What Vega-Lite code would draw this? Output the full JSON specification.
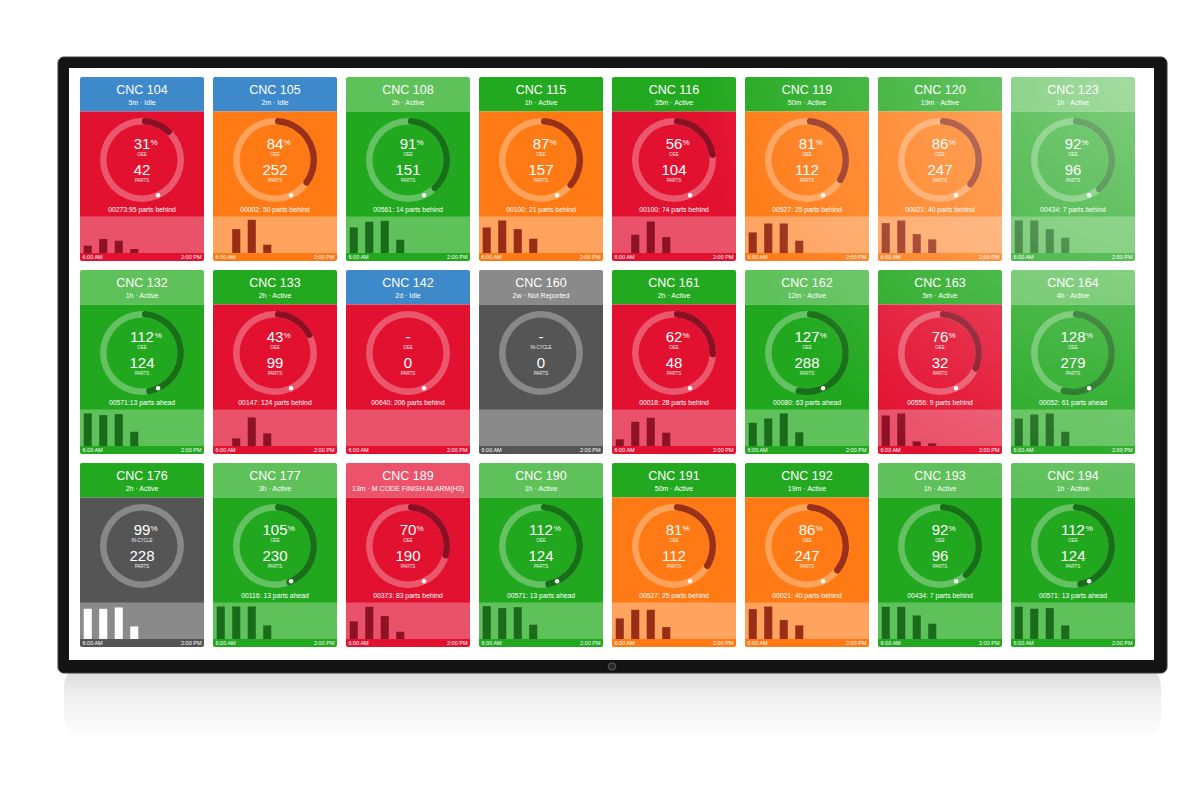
{
  "$schema": "https://vega.github.io/schema/vega-lite/v6.json",
  "background": "white",
  "padding": {"left": 57, "top": 46, "right": 0, "bottom": 0},
  "autosize": {"type": "pad"},
  "bounds": "flush",
  "config": {
    "view": {"stroke": null},
    "axis": {"disable": true},
    "legend": {"disable": true},
    "header": {"labels": false, "labelExpr": "''", "title": null, "labelPadding": 0, "titlePadding": 0},
    "mark": {"invalid": null},
    "font": "Liberation Sans"
  },
  "data": {
    "values": [
      {"kind": "tile", "machine": "CNC 104", "status": "5m · Idle", "mode": "Idle", "oee": 31, "metric": "OEE", "parts": 42, "note": "00273:95 parts behind"},
      {"kind": "tile", "machine": "CNC 105", "status": "2m · Idle", "mode": "Idle", "oee": 84, "metric": "OEE", "parts": 252, "note": "00002: 50 parts behind"},
      {"kind": "tile", "machine": "CNC 108", "status": "2h · Active", "mode": "Active", "oee": 91, "metric": "OEE", "parts": 151, "note": "00561: 14 parts behind"},
      {"kind": "tile", "machine": "CNC 115", "status": "1h · Active", "mode": "Active", "oee": 87, "metric": "OEE", "parts": 157, "note": "00100: 21 parts behind"},
      {"kind": "tile", "machine": "CNC 116", "status": "35m · Active", "mode": "Active", "oee": 56, "metric": "OEE", "parts": 104, "note": "00100: 74 parts behind"},
      {"kind": "tile", "machine": "CNC 119", "status": "50m · Active", "mode": "Active", "oee": 81, "metric": "OEE", "parts": 112, "note": "00527: 25 parts behind"},
      {"kind": "tile", "machine": "CNC 120", "status": "19m · Active", "mode": "Active", "oee": 86, "metric": "OEE", "parts": 247, "note": "00021: 40 parts behind"},
      {"kind": "tile", "machine": "CNC 123", "status": "1h · Active", "mode": "Active", "oee": 92, "metric": "OEE", "parts": 96, "note": "00434: 7 parts behind"},
      {"kind": "tile", "machine": "CNC 132", "status": "1h · Active", "mode": "Active", "oee": 112, "metric": "OEE", "parts": 124, "note": "00571:13 parts ahead"},
      {"kind": "tile", "machine": "CNC 133", "status": "2h · Active", "mode": "Active", "oee": 43, "metric": "OEE", "parts": 99, "note": "00147: 124 parts behind"},
      {"kind": "tile", "machine": "CNC 142", "status": "2d · Idle", "mode": "Idle", "oee": null, "metric": "OEE", "parts": 0, "note": "00640: 206 parts behind"},
      {"kind": "tile", "machine": "CNC 160", "status": "2w · Not Reported", "mode": "Not Reported", "oee": null, "metric": "IN-CYCLE", "parts": 0, "note": null},
      {"kind": "tile", "machine": "CNC 161", "status": "2h · Active", "mode": "Active", "oee": 62, "metric": "OEE", "parts": 48, "note": "00018: 28 parts behind"},
      {"kind": "tile", "machine": "CNC 162", "status": "12m · Active", "mode": "Active", "oee": 127, "metric": "OEE", "parts": 288, "note": "00080: 63 parts ahead"},
      {"kind": "tile", "machine": "CNC 163", "status": "5m · Active", "mode": "Active", "oee": 76, "metric": "OEE", "parts": 32, "note": "00556: 9 parts behind"},
      {"kind": "tile", "machine": "CNC 164", "status": "4h · Active", "mode": "Active", "oee": 128, "metric": "OEE", "parts": 279, "note": "00052: 61 parts ahead"},
      {"kind": "tile", "machine": "CNC 176", "status": "2h · Active", "mode": "Active", "oee": 99, "metric": "IN-CYCLE", "parts": 228, "note": null},
      {"kind": "tile", "machine": "CNC 177", "status": "3h · Active", "mode": "Active", "oee": 105, "metric": "OEE", "parts": 230, "note": "00116: 13 parts ahead"},
      {"kind": "tile", "machine": "CNC 189", "status": "13m · M CODE FINISH ALARM(H3)", "mode": "Alarm", "oee": 70, "metric": "OEE", "parts": 190, "note": "00373: 83 parts behind"},
      {"kind": "tile", "machine": "CNC 190", "status": "1h · Active", "mode": "Active", "oee": 112, "metric": "OEE", "parts": 124, "note": "00571: 13 parts ahead"},
      {"kind": "tile", "machine": "CNC 191", "status": "50m · Active", "mode": "Active", "oee": 81, "metric": "OEE", "parts": 112, "note": "00527: 25 parts behind"},
      {"kind": "tile", "machine": "CNC 192", "status": "19m · Active", "mode": "Active", "oee": 86, "metric": "OEE", "parts": 247, "note": "00021: 40 parts behind"},
      {"kind": "tile", "machine": "CNC 193", "status": "1h · Active", "mode": "Active", "oee": 92, "metric": "OEE", "parts": 96, "note": "00434: 7 parts behind"},
      {"kind": "tile", "machine": "CNC 194", "status": "1h · Active", "mode": "Active", "oee": 112, "metric": "OEE", "parts": 124, "note": "00571: 13 parts ahead"},
      {"kind": "bar", "machine": "CNC 104", "hour": 6, "pct": 22},
      {"kind": "bar", "machine": "CNC 104", "hour": 7, "pct": 42},
      {"kind": "bar", "machine": "CNC 104", "hour": 8, "pct": 37},
      {"kind": "bar", "machine": "CNC 104", "hour": 9, "pct": 12},
      {"kind": "bar", "machine": "CNC 105", "hour": 7, "pct": 72},
      {"kind": "bar", "machine": "CNC 105", "hour": 8, "pct": 100},
      {"kind": "bar", "machine": "CNC 105", "hour": 9, "pct": 25},
      {"kind": "bar", "machine": "CNC 108", "hour": 6, "pct": 77},
      {"kind": "bar", "machine": "CNC 108", "hour": 7, "pct": 94},
      {"kind": "bar", "machine": "CNC 108", "hour": 8, "pct": 97},
      {"kind": "bar", "machine": "CNC 108", "hour": 9, "pct": 40},
      {"kind": "bar", "machine": "CNC 115", "hour": 6, "pct": 77},
      {"kind": "bar", "machine": "CNC 115", "hour": 7, "pct": 98},
      {"kind": "bar", "machine": "CNC 115", "hour": 8, "pct": 72},
      {"kind": "bar", "machine": "CNC 115", "hour": 9, "pct": 43},
      {"kind": "bar", "machine": "CNC 116", "hour": 7, "pct": 55},
      {"kind": "bar", "machine": "CNC 116", "hour": 8, "pct": 95},
      {"kind": "bar", "machine": "CNC 116", "hour": 9, "pct": 48},
      {"kind": "bar", "machine": "CNC 119", "hour": 6, "pct": 62},
      {"kind": "bar", "machine": "CNC 119", "hour": 7, "pct": 89},
      {"kind": "bar", "machine": "CNC 119", "hour": 8, "pct": 89},
      {"kind": "bar", "machine": "CNC 119", "hour": 9, "pct": 37},
      {"kind": "bar", "machine": "CNC 120", "hour": 6, "pct": 90},
      {"kind": "bar", "machine": "CNC 120", "hour": 7, "pct": 98},
      {"kind": "bar", "machine": "CNC 120", "hour": 8, "pct": 57},
      {"kind": "bar", "machine": "CNC 120", "hour": 9, "pct": 41},
      {"kind": "bar", "machine": "CNC 123", "hour": 6, "pct": 98},
      {"kind": "bar", "machine": "CNC 123", "hour": 7, "pct": 98},
      {"kind": "bar", "machine": "CNC 123", "hour": 8, "pct": 72},
      {"kind": "bar", "machine": "CNC 123", "hour": 9, "pct": 46},
      {"kind": "bar", "machine": "CNC 132", "hour": 6, "pct": 98},
      {"kind": "bar", "machine": "CNC 132", "hour": 7, "pct": 93},
      {"kind": "bar", "machine": "CNC 132", "hour": 8, "pct": 96},
      {"kind": "bar", "machine": "CNC 132", "hour": 9, "pct": 43},
      {"kind": "bar", "machine": "CNC 133", "hour": 7, "pct": 23},
      {"kind": "bar", "machine": "CNC 133", "hour": 8, "pct": 86},
      {"kind": "bar", "machine": "CNC 133", "hour": 9, "pct": 38},
      {"kind": "bar", "machine": "CNC 161", "hour": 6, "pct": 20},
      {"kind": "bar", "machine": "CNC 161", "hour": 7, "pct": 73},
      {"kind": "bar", "machine": "CNC 161", "hour": 8, "pct": 85},
      {"kind": "bar", "machine": "CNC 161", "hour": 9, "pct": 40},
      {"kind": "bar", "machine": "CNC 162", "hour": 6, "pct": 70},
      {"kind": "bar", "machine": "CNC 162", "hour": 7, "pct": 83},
      {"kind": "bar", "machine": "CNC 162", "hour": 8, "pct": 98},
      {"kind": "bar", "machine": "CNC 162", "hour": 9, "pct": 41},
      {"kind": "bar", "machine": "CNC 163", "hour": 6, "pct": 92},
      {"kind": "bar", "machine": "CNC 163", "hour": 7, "pct": 98},
      {"kind": "bar", "machine": "CNC 163", "hour": 8, "pct": 14},
      {"kind": "bar", "machine": "CNC 163", "hour": 9, "pct": 8},
      {"kind": "bar", "machine": "CNC 164", "hour": 6, "pct": 83},
      {"kind": "bar", "machine": "CNC 164", "hour": 7, "pct": 95},
      {"kind": "bar", "machine": "CNC 164", "hour": 8, "pct": 98},
      {"kind": "bar", "machine": "CNC 164", "hour": 9, "pct": 43},
      {"kind": "bar", "machine": "CNC 176", "hour": 6, "pct": 91},
      {"kind": "bar", "machine": "CNC 176", "hour": 7, "pct": 91},
      {"kind": "bar", "machine": "CNC 176", "hour": 8, "pct": 95},
      {"kind": "bar", "machine": "CNC 176", "hour": 9, "pct": 38},
      {"kind": "bar", "machine": "CNC 177", "hour": 6, "pct": 98},
      {"kind": "bar", "machine": "CNC 177", "hour": 7, "pct": 98},
      {"kind": "bar", "machine": "CNC 177", "hour": 8, "pct": 98},
      {"kind": "bar", "machine": "CNC 177", "hour": 9, "pct": 41},
      {"kind": "bar", "machine": "CNC 189", "hour": 6, "pct": 53},
      {"kind": "bar", "machine": "CNC 189", "hour": 7, "pct": 97},
      {"kind": "bar", "machine": "CNC 189", "hour": 8, "pct": 69},
      {"kind": "bar", "machine": "CNC 189", "hour": 9, "pct": 22},
      {"kind": "bar", "machine": "CNC 190", "hour": 6, "pct": 99},
      {"kind": "bar", "machine": "CNC 190", "hour": 7, "pct": 93},
      {"kind": "bar", "machine": "CNC 190", "hour": 8, "pct": 96},
      {"kind": "bar", "machine": "CNC 190", "hour": 9, "pct": 43},
      {"kind": "bar", "machine": "CNC 191", "hour": 6, "pct": 62},
      {"kind": "bar", "machine": "CNC 191", "hour": 7, "pct": 88},
      {"kind": "bar", "machine": "CNC 191", "hour": 8, "pct": 88},
      {"kind": "bar", "machine": "CNC 191", "hour": 9, "pct": 36},
      {"kind": "bar", "machine": "CNC 192", "hour": 6, "pct": 90},
      {"kind": "bar", "machine": "CNC 192", "hour": 7, "pct": 98},
      {"kind": "bar", "machine": "CNC 192", "hour": 8, "pct": 57},
      {"kind": "bar", "machine": "CNC 192", "hour": 9, "pct": 41},
      {"kind": "bar", "machine": "CNC 193", "hour": 6, "pct": 97},
      {"kind": "bar", "machine": "CNC 193", "hour": 7, "pct": 97},
      {"kind": "bar", "machine": "CNC 193", "hour": 8, "pct": 71},
      {"kind": "bar", "machine": "CNC 193", "hour": 9, "pct": 46},
      {"kind": "bar", "machine": "CNC 194", "hour": 6, "pct": 97},
      {"kind": "bar", "machine": "CNC 194", "hour": 7, "pct": 91},
      {"kind": "bar", "machine": "CNC 194", "hour": 8, "pct": 93},
      {"kind": "bar", "machine": "CNC 194", "hour": 9, "pct": 41}
    ]
  },
  "facet": {"field": "machine", "type": "nominal", "header": {"labels": false, "labelExpr": "''", "title": null, "labelPadding": 0, "titlePadding": 0}},
  "columns": 8,
  "spacing": {"row": 9, "column": 9},
  "spec": {
    "width": 124,
    "height": 184,
    "layer": [
      {
        "layer": [
          {
            "transform": [{"filter": "datum.kind === 'tile' && datum.machine === 'CNC 104'"}],
            "mark": {"type": "rect", "cornerRadius": 24, "fill": {"gradient": "linear", "x1": 0, "y1": 0, "x2": 0, "y2": 1, "stops": [{"offset": 0, "color": "rgba(0,0,0,0.16)"}, {"offset": 0.45, "color": "rgba(0,0,0,0.06)"}, {"offset": 1, "color": "rgba(0,0,0,0)"}]}},
            "encoding": {
              "x": {"datum": -16, "type": "quantitative", "scale": {"domain": [0, 124], "nice": false, "zero": false}},
              "x2": {"datum": 1081},
              "y": {"datum": 586, "type": "quantitative", "scale": {"domain": [0, 184], "nice": false, "zero": false, "reverse": true}},
              "y2": {"datum": 664}
            }
          },
          {
            "transform": [{"filter": "datum.kind === 'tile' && datum.machine === 'CNC 104'"}],
            "mark": {"type": "rect", "fill": "#141414", "stroke": "#3c3c3c", "strokeWidth": 1, "cornerRadius": 6},
            "encoding": {
              "x": {"datum": -22, "type": "quantitative", "scale": {"domain": [0, 124], "nice": false, "zero": false}},
              "x2": {"datum": 1087},
              "y": {"datum": -20, "type": "quantitative", "scale": {"domain": [0, 184], "nice": false, "zero": false, "reverse": true}},
              "y2": {"datum": 596}
            }
          },
          {
            "transform": [{"filter": "datum.kind === 'tile' && datum.machine === 'CNC 104'"}],
            "mark": {"type": "rect", "fill": "#ffffff"},
            "encoding": {
              "x": {"datum": -11, "type": "quantitative", "scale": {"domain": [0, 124], "nice": false, "zero": false}},
              "x2": {"datum": 1074},
              "y": {"datum": -9, "type": "quantitative", "scale": {"domain": [0, 184], "nice": false, "zero": false, "reverse": true}},
              "y2": {"datum": 583}
            }
          },
          {
            "transform": [{"filter": "datum.kind === 'tile' && datum.machine === 'CNC 104'"}],
            "mark": {"type": "point", "filled": true, "fill": "#2c2c2c", "stroke": "#5a5a5a", "strokeWidth": 1, "size": 55, "opacity": 1},
            "encoding": {
              "x": {"datum": 532, "type": "quantitative", "scale": {"domain": [0, 124], "nice": false, "zero": false}},
              "y": {"datum": 589.5, "type": "quantitative", "scale": {"domain": [0, 184], "nice": false, "zero": false, "reverse": true}}
            }
          },
          {
            "transform": [{"filter": "datum.kind === 'tile'"}],
            "mark": {"type": "rect", "cornerRadiusTopLeft": 2, "cornerRadiusTopRight": 2},
            "encoding": {
              "x": {"datum": 0, "type": "quantitative", "scale": {"domain": [0, 124], "nice": false, "zero": false}},
              "x2": {"datum": 124},
              "y": {"datum": 0, "type": "quantitative", "scale": {"domain": [0, 184], "nice": false, "zero": false, "reverse": true}},
              "y2": {"datum": 34.5},
              "fill": {
                "condition": {"test": "datum.mode === 'Active' && datum.metric === 'OEE' && datum.oee >= 90", "value": "#5EC15A"},
                "field": "mode", "type": "nominal",
                "scale": {"domain": ["Idle", "Active", "Alarm", "Not Reported"], "range": ["#3E89CA", "#23A920", "#EC5269", "#8A8A8A"]},
                "legend": null
              }
            }
          },
          {
            "transform": [{"filter": "datum.kind === 'tile'"}],
            "mark": {"type": "rect", "cornerRadiusBottomLeft": 2, "cornerRadiusBottomRight": 2},
            "encoding": {
              "x": {"datum": 0, "type": "quantitative", "scale": {"domain": [0, 124], "nice": false, "zero": false}},
              "x2": {"datum": 124},
              "y": {"datum": 34.5, "type": "quantitative", "scale": {"domain": [0, 184], "nice": false, "zero": false, "reverse": true}},
              "y2": {"datum": 184},
              "fill": {
                "condition": [{"test": "datum.metric === 'IN-CYCLE'", "value": "#555555"}, {"test": "datum.oee == null", "value": "#E31130"}],
                "field": "oee", "type": "quantitative",
                "scale": {"type": "threshold", "domain": [80, 90], "range": ["#E31130", "#FF7A14", "#21A81F"]},
                "legend": null
              }
            }
          },
          {
            "transform": [{"filter": "datum.kind === 'tile'"}],
            "mark": {"type": "rect"},
            "encoding": {
              "x": {"datum": 0, "type": "quantitative", "scale": {"domain": [0, 124], "nice": false, "zero": false}},
              "x2": {"datum": 124},
              "y": {"datum": 139.5, "type": "quantitative", "scale": {"domain": [0, 184], "nice": false, "zero": false, "reverse": true}},
              "y2": {"datum": 176},
              "fill": {
                "condition": [{"test": "datum.metric === 'IN-CYCLE'", "value": "#8A8A8A"}, {"test": "datum.oee == null", "value": "#EA5269"}],
                "field": "oee", "type": "quantitative",
                "scale": {"type": "threshold", "domain": [80, 90], "range": ["#EA5269", "#FFA35F", "#5EC15A"]},
                "legend": null
              }
            }
          },
          {
            "transform": [{"filter": "datum.kind === 'tile'"}],
            "mark": {"type": "arc", "radius": 42, "radius2": 35.5, "theta": 0, "theta2": 6.2832, "fill": "#ffffff", "opacity": 0.3},
            "encoding": {
              "x": {"datum": 62, "type": "quantitative", "scale": {"domain": [0, 124], "nice": false, "zero": false}},
              "y": {"datum": 83, "type": "quantitative", "scale": {"domain": [0, 184], "nice": false, "zero": false, "reverse": true}}
            }
          },
          {
            "transform": [{"filter": "datum.kind === 'tile' && datum.metric === 'OEE' && datum.oee != null"}],
            "mark": {"type": "arc", "radius": 42, "radius2": 35.5, "cornerRadius": 3},
            "encoding": {
              "x": {"datum": 62, "type": "quantitative", "scale": {"domain": [0, 124], "nice": false, "zero": false}},
              "y": {"datum": 83, "type": "quantitative", "scale": {"domain": [0, 184], "nice": false, "zero": false, "reverse": true}},
              "theta": {"field": "oee", "type": "quantitative", "stack": null, "scale": {"domain": [0, 100], "range": [0, 2.705], "nice": false, "zero": false}},
              "theta2": {"datum": 0},
              "fill": {
                "field": "oee", "type": "quantitative",
                "scale": {"type": "threshold", "domain": [80, 90], "range": ["#8B1024", "#9B3018", "#176F17"]},
                "legend": null
              }
            }
          },
          {
            "transform": [{"filter": "datum.kind === 'tile' && datum.metric === 'OEE'"}],
            "mark": {"type": "point", "filled": true, "fill": "#ffffff", "size": 20, "opacity": 1},
            "encoding": {
              "x": {"datum": 78.1, "type": "quantitative", "scale": {"domain": [0, 124], "nice": false, "zero": false}},
              "y": {"datum": 118.2, "type": "quantitative", "scale": {"domain": [0, 184], "nice": false, "zero": false, "reverse": true}}
            }
          },
          {
            "transform": [{"filter": "datum.kind === 'tile'"}],
            "mark": {"type": "text", "fill": "#ffffff", "fontSize": 12.5, "align": "center", "baseline": "middle"},
            "encoding": {
              "x": {"datum": 62, "type": "quantitative", "scale": {"domain": [0, 124], "nice": false, "zero": false}},
              "y": {"datum": 12.7, "type": "quantitative", "scale": {"domain": [0, 184], "nice": false, "zero": false, "reverse": true}},
              "text": {"field": "machine", "type": "nominal"}
            }
          },
          {
            "transform": [{"filter": "datum.kind === 'tile'"}],
            "mark": {"type": "text", "fill": "#ffffff", "fontSize": 7, "align": "center", "baseline": "middle"},
            "encoding": {
              "x": {"datum": 62, "type": "quantitative", "scale": {"domain": [0, 124], "nice": false, "zero": false}},
              "y": {"datum": 25.7, "type": "quantitative", "scale": {"domain": [0, 184], "nice": false, "zero": false, "reverse": true}},
              "text": {"field": "status", "type": "nominal"}
            }
          },
          {
            "transform": [{"filter": "datum.kind === 'tile'"}],
            "mark": {"type": "text", "fill": "#ffffff", "fontSize": 15, "align": "center", "baseline": "middle"},
            "encoding": {
              "x": {"datum": 62, "type": "quantitative", "scale": {"domain": [0, 124], "nice": false, "zero": false}},
              "y": {"datum": 67, "type": "quantitative", "scale": {"domain": [0, 184], "nice": false, "zero": false, "reverse": true}},
              "text": {"condition": {"test": "datum.oee == null", "value": "-"}, "field": "oee", "type": "quantitative", "format": "d"}
            }
          },
          {
            "transform": [{"filter": "datum.kind === 'tile' && datum.oee != null && datum.oee < 100"}],
            "mark": {"type": "text", "fill": "#ffffff", "fontSize": 8, "align": "left", "baseline": "top", "text": "%"},
            "encoding": {
              "x": {"datum": 70.5, "type": "quantitative", "scale": {"domain": [0, 124], "nice": false, "zero": false}},
              "y": {"datum": 61.5, "type": "quantitative", "scale": {"domain": [0, 184], "nice": false, "zero": false, "reverse": true}}
            }
          },
          {
            "transform": [{"filter": "datum.kind === 'tile' && datum.oee != null && datum.oee >= 100"}],
            "mark": {"type": "text", "fill": "#ffffff", "fontSize": 8, "align": "left", "baseline": "top", "text": "%"},
            "encoding": {
              "x": {"datum": 74.8, "type": "quantitative", "scale": {"domain": [0, 124], "nice": false, "zero": false}},
              "y": {"datum": 61.5, "type": "quantitative", "scale": {"domain": [0, 184], "nice": false, "zero": false, "reverse": true}}
            }
          },
          {
            "transform": [{"filter": "datum.kind === 'tile'"}],
            "mark": {"type": "text", "fill": "#ffffff", "opacity": 0.9, "fontSize": 4.5, "align": "center", "baseline": "middle"},
            "encoding": {
              "x": {"datum": 62, "type": "quantitative", "scale": {"domain": [0, 124], "nice": false, "zero": false}},
              "y": {"datum": 78, "type": "quantitative", "scale": {"domain": [0, 184], "nice": false, "zero": false, "reverse": true}},
              "text": {"field": "metric", "type": "nominal"}
            }
          },
          {
            "transform": [{"filter": "datum.kind === 'tile'"}],
            "mark": {"type": "text", "fill": "#ffffff", "fontSize": 15, "align": "center", "baseline": "middle"},
            "encoding": {
              "x": {"datum": 62, "type": "quantitative", "scale": {"domain": [0, 124], "nice": false, "zero": false}},
              "y": {"datum": 92.5, "type": "quantitative", "scale": {"domain": [0, 184], "nice": false, "zero": false, "reverse": true}},
              "text": {"field": "parts", "type": "quantitative", "format": "d"}
            }
          },
          {
            "transform": [{"filter": "datum.kind === 'tile'"}],
            "mark": {"type": "text", "fill": "#ffffff", "opacity": 0.9, "fontSize": 4.5, "align": "center", "baseline": "middle", "text": "PARTS"},
            "encoding": {
              "x": {"datum": 62, "type": "quantitative", "scale": {"domain": [0, 124], "nice": false, "zero": false}},
              "y": {"datum": 104, "type": "quantitative", "scale": {"domain": [0, 184], "nice": false, "zero": false, "reverse": true}}
            }
          },
          {
            "transform": [{"filter": "datum.kind === 'tile' && datum.note != null"}],
            "mark": {"type": "text", "fill": "#ffffff", "fontSize": 6.8, "align": "center", "baseline": "middle"},
            "encoding": {
              "x": {"datum": 62, "type": "quantitative", "scale": {"domain": [0, 124], "nice": false, "zero": false}},
              "y": {"datum": 133.3, "type": "quantitative", "scale": {"domain": [0, 184], "nice": false, "zero": false, "reverse": true}},
              "text": {"field": "note", "type": "nominal"}
            }
          },
          {
            "transform": [{"filter": "datum.kind === 'tile'"}],
            "mark": {"type": "text", "fill": "#ffffff", "fontSize": 5.5, "align": "left", "baseline": "middle", "text": "6:00 AM"},
            "encoding": {
              "x": {"datum": 2.5, "type": "quantitative", "scale": {"domain": [0, 124], "nice": false, "zero": false}},
              "y": {"datum": 180.2, "type": "quantitative", "scale": {"domain": [0, 184], "nice": false, "zero": false, "reverse": true}}
            }
          },
          {
            "transform": [{"filter": "datum.kind === 'tile'"}],
            "mark": {"type": "text", "fill": "#ffffff", "fontSize": 5.5, "align": "right", "baseline": "middle", "text": "2:00 PM"},
            "encoding": {
              "x": {"datum": 121.5, "type": "quantitative", "scale": {"domain": [0, 124], "nice": false, "zero": false}},
              "y": {"datum": 180.2, "type": "quantitative", "scale": {"domain": [0, 184], "nice": false, "zero": false, "reverse": true}}
            }
          }
        ],
        "resolve": {"scale": {"fill": "independent"}}
      },
      {
        "transform": [
          {"joinaggregate": [{"op": "max", "field": "oee", "as": "tileOee"}, {"op": "max", "field": "metric", "as": "tileMetric"}], "groupby": ["machine"]},
          {"filter": "datum.kind === 'bar'"}
        ],
        "mark": {"type": "bar"},
        "encoding": {
          "x": {"field": "hour", "type": "ordinal", "scale": {"domain": [6, 7, 8, 9, 10, 11, 12, 13], "range": [0, 124], "paddingInner": 0.48, "paddingOuter": 0.24}},
          "y": {"field": "pct", "type": "quantitative", "scale": {"domain": [0, 110], "range": [176, 139.5], "nice": false}},
          "fill": {
            "condition": {"test": "datum.tileMetric === 'IN-CYCLE'", "value": "#FFFFFF"},
            "field": "tileOee", "type": "quantitative",
            "scale": {"type": "threshold", "domain": [80, 90], "range": ["#8E1226", "#992E17", "#1A6B1A"]},
            "legend": null
          }
        }
      },
      {
        "transform": [{"filter": "datum.kind === 'tile' && datum.machine === 'CNC 194'"}],
        "mark": {"type": "rect", "fill": {"gradient": "radial", "x1": 1, "y1": 0, "r1": 0, "x2": 1, "y2": 0, "r2": 0.75, "stops": [{"offset": 0, "color": "rgba(255,255,255,0.45)"}, {"offset": 1, "color": "rgba(255,255,255,0)"}]}},
        "encoding": {
          "x": {"datum": -457, "type": "quantitative", "scale": {"domain": [0, 124], "nice": false, "zero": false}},
          "x2": {"datum": 143},
          "y": {"datum": -395, "type": "quantitative", "scale": {"domain": [0, 184], "nice": false, "zero": false, "reverse": true}},
          "y2": {"datum": 197}
        }
      }
    ],
    "resolve": {"scale": {"x": "independent", "y": "independent", "fill": "independent"}}
  }
}
